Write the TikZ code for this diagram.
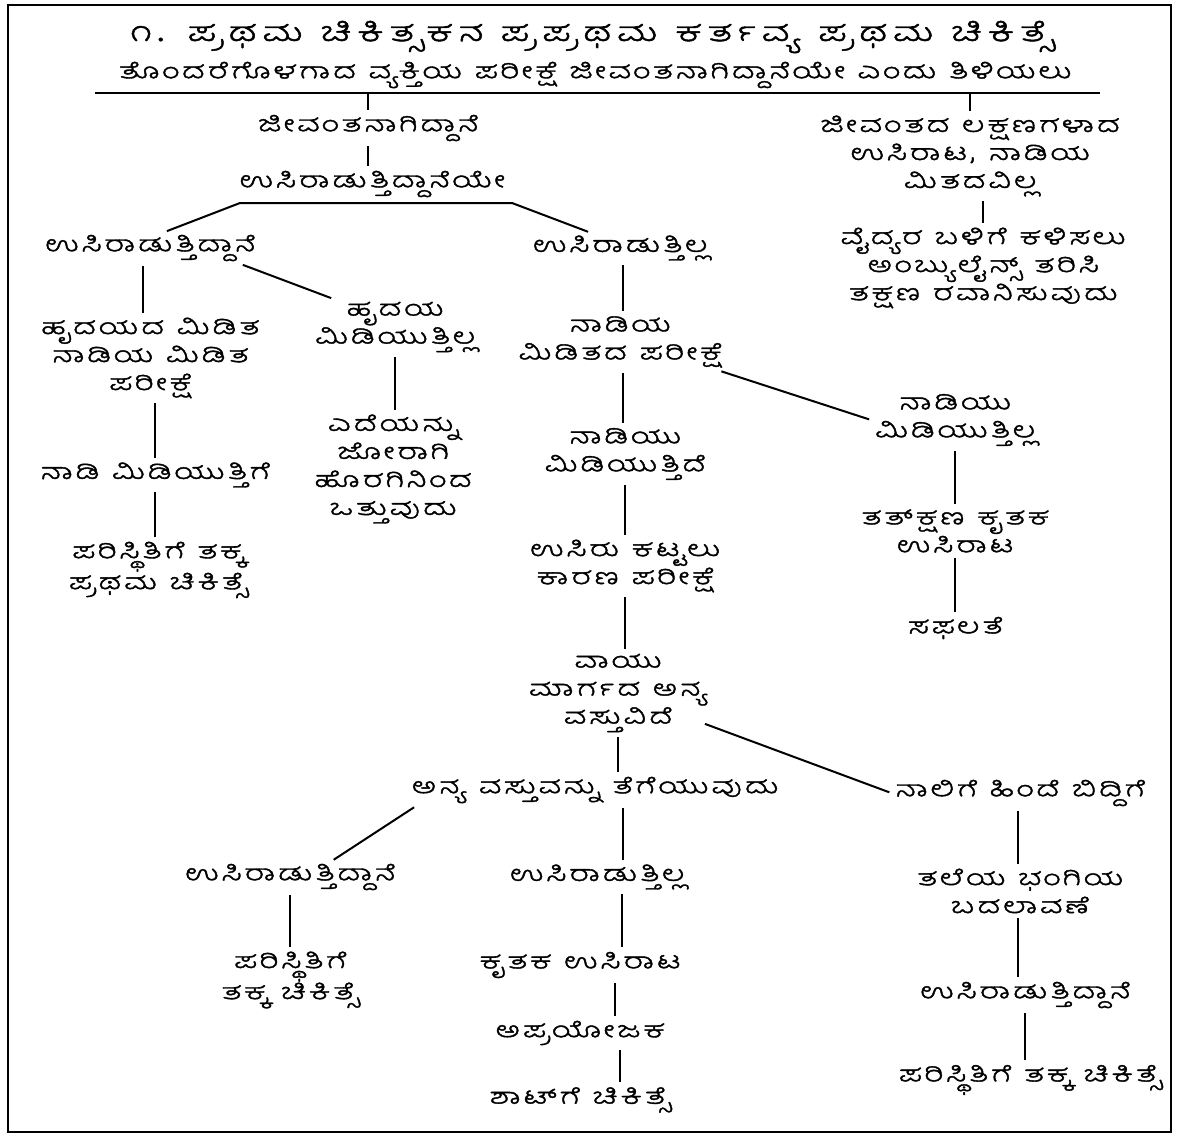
\documentclass[tikz,border=0pt]{standalone}
\usepackage{fontspec}
\newfontfamily\kan[Script=Kannada,FakeStretch=1.3,LetterSpace=4,FakeBold=1.5]{Hubballi}
\begin{document}
\begin{tikzpicture}[x=1pt,y=-1pt, line width=2pt,
  txt/.style={font=\kan\fontsize{26}{28}\selectfont, align=center, inner sep=2pt},
  head/.style={font=\kan\fontsize{32}{34}\selectfont\addfontfeature{LetterSpace=11}, inner sep=0pt},
  link/.style={line width=2pt, shorten <=2pt, shorten >=2pt}]
\useasboundingbox (0,0) rectangle (1184,1135);
\draw[line width=2.4pt] (8,5) rectangle (1171,1132);
\node[head] (title) at (592,37) {೧. ಪ್ರಥಮ ಚಿಕಿತ್ಸಕನ ಪ್ರಪ್ರಥಮ ಕರ್ತವ್ಯ ಪ್ರಥಮ ಚಿಕಿತ್ಸೆ};
\node[txt] (sub) at (595,75) {ತೊಂದರೆಗೊಳಗಾದ ವ್ಯಕ್ತಿಯ ಪರೀಕ್ಷೆ ಜೀವಂತನಾಗಿದ್ದಾನೆಯೇ ಎಂದು ತಿಳಿಯಲು};
\coordinate (rl) at (95,93);
\coordinate (rr) at (1100,93);
\node[txt] (A) at (368,128) {ಜೀವಂತನಾಗಿದ್ದಾನೆ};
\node[txt] (B) at (372,184) {ಉಸಿರಾಡುತ್ತಿದ್ದಾನೆಯೇ};
\node[txt] (R1) at (970,156) {ಜೀವಂತದ ಲಕ್ಷಣಗಳಾದ\\ಉಸಿರಾಟ, ನಾಡಿಯ\\ಮಿತದವಿಲ್ಲ};
\node[txt] (R2) at (983,268) {ವೈದ್ಯರ ಬಳಿಗೆ ಕಳಿಸಲು\\ಅಂಬ್ಯುಲೈನ್ಸ್ ತರಿಸಿ\\ತಕ್ಷಣ ರವಾನಿಸುವುದು};
\node[txt] (C) at (150,248) {ಉಸಿರಾಡುತ್ತಿದ್ದಾನೆ};
\node[txt] (D) at (620,248) {ಉಸಿರಾಡುತ್ತಿಲ್ಲ};
\node[txt] (E) at (150,358) {ಹೃದಯದ ಮಿಡಿತ\\ನಾಡಿಯ ಮಿಡಿತ\\ಪರೀಕ್ಷೆ};
\node[txt] (F) at (395,327) {ಹೃದಯ\\ಮಿಡಿಯುತ್ತಿಲ್ಲ};
\node[txt] (G) at (155,475) {ನಾಡಿ ಮಿಡಿಯುತ್ತಿಗೆ};
\node[txt] (H) at (158,570) {ಪರಿಸ್ಥಿತಿಗೆ ತಕ್ಕ\\ಪ್ರಥಮ ಚಿಕಿತ್ಸೆ};
\node[txt] (I) at (393,469) {ಎದೆಯನ್ನು\\ಜೋರಾಗಿ\\ಹೊರಗಿನಿಂದ\\ಒತ್ತುವುದು};
\node[txt] (J) at (620,342) {ನಾಡಿಯ\\ಮಿಡಿತದ ಪರೀಕ್ಷೆ};
\node[txt] (K) at (625,454) {ನಾಡಿಯು\\ಮಿಡಿಯುತ್ತಿದೆ};
\node[txt] (L) at (955,420) {ನಾಡಿಯು\\ಮಿಡಿಯುತ್ತಿಲ್ಲ};
\node[txt] (M) at (955,531) {ತತ್‌ಕ್ಷಣ ಕೃತಕ\\ಉಸಿರಾಟ};
\node[txt] (N) at (955,628) {ಸಫಲತೆ};
\node[txt] (O) at (625,566) {ಉಸಿರು ಕಟ್ಟಲು\\ಕಾರಣ ಪರೀಕ್ಷೆ};
\node[txt] (P) at (618,693) {ವಾಯು\\ಮಾರ್ಗದ ಅನ್ಯ\\ವಸ್ತುವಿದೆ};
\node[txt] (Q) at (595,790) {ಅನ್ಯ ವಸ್ತುವನ್ನು ತೆಗೆಯುವುದು};
\node[txt] (S) at (1020,793) {ನಾಲಿಗೆ ಹಿಂದೆ ಬಿದ್ದಿಗೆ};
\node[txt] (T) at (290,877) {ಉಸಿರಾಡುತ್ತಿದ್ದಾನೆ};
\node[txt] (U) at (597,877) {ಉಸಿರಾಡುತ್ತಿಲ್ಲ};
\node[txt] (Z1) at (1020,891) {ತಲೆಯ ಭಂಗಿಯ\\ಬದಲಾವಣೆ};
\node[txt] (V) at (290,980) {ಪರಿಸ್ಥಿತಿಗೆ\\ತಕ್ಕ ಚಿಕಿತ್ಸೆ};
\node[txt] (W) at (580,965) {ಕೃತಕ ಉಸಿರಾಟ};
\node[txt] (X) at (580,1033) {ಅಪ್ರಯೋಜಕ};
\node[txt] (Y) at (580,1100) {ಶಾಟ್‌ಗೆ ಚಿಕಿತ್ಸೆ};
\node[txt] (Z2) at (1025,995) {ಉಸಿರಾಡುತ್ತಿದ್ದಾನೆ};
\node[txt] (Z3) at (1030,1080) {ಪರಿಸ್ಥಿತಿಗೆ ತಕ್ಕ ಚಿಕಿತ್ಸೆ};
\coordinate (bl) at (240,203);
\coordinate (br) at (512,203);
\draw (rl) -- (rr);
\draw[link, shorten <=0pt] (A.north |- rl) -- (A.north);
\draw[link, shorten <=0pt] (R1.north |- rl) -- (R1.north);
\draw[link] (A.south) -- (A.south |- B.north);
\draw[link] ([xshift=15pt]C.north) -- (bl) -- (br) -- ([xshift=-30pt]D.north);
\draw[link] (R1.south -| 983,0) -- (R2.north);
\draw[link] ([xshift=-7pt]C.south) -- ([xshift=-7pt]C.south |- E.north);
\draw[link] ([xshift=-18pt]C.south east) -- ([xshift=22pt]F.north west);
\draw[link] ([xshift=5pt]E.south) -- ([xshift=5pt]E.south |- G.north);
\draw[link] (G.south) -- (G.south |- H.north);
\draw[link] (F.south) -- (F.south |- I.north);
\draw[link] ([xshift=3pt]D.south) -- ([xshift=3pt]D.south |- J.north);
\draw[link] ([xshift=3pt]J.south) -- ([xshift=3pt]J.south |- K.north);
\draw[link] ([xshift=-6pt]J.south east) -- (L.west);
\draw[link] (L.south) -- (M.north);
\draw[link] (M.south) -- (N.north);
\draw[link] (K.south) -- (O.north);
\draw[link] (O.south) -- (O.south |- P.north);
\draw[link] (P.south) -- (P.south |- Q.north);
\draw[link] ([xshift=-8pt,yshift=12pt]P.south east) -- (S.west);
\draw[link] ([xshift=8pt]Q.south west) -- ([xshift=42pt]T.north);
\draw[link] ([xshift=28pt]Q.south) -- ([xshift=26pt]U.north);
\draw[link] (S.south -| 1018,0) -- (Z1.north -| 1018,0);
\draw[link] (Z1.south -| 1018,0) -- (Z2.north -| 1018,0);
\draw[link] (Z2.south) -- (Z2.south |- Z3.north);
\draw[link] (T.south) -- (T.south |- V.north);
\draw[link] ([xshift=25pt]U.south) -- ([xshift=42pt]W.north);
\draw[link] ([xshift=35pt]W.south) -- ([xshift=35pt]X.north);
\draw[link] ([xshift=40pt]X.south) -- ([xshift=40pt]Y.north);
\end{tikzpicture}
\end{document}
